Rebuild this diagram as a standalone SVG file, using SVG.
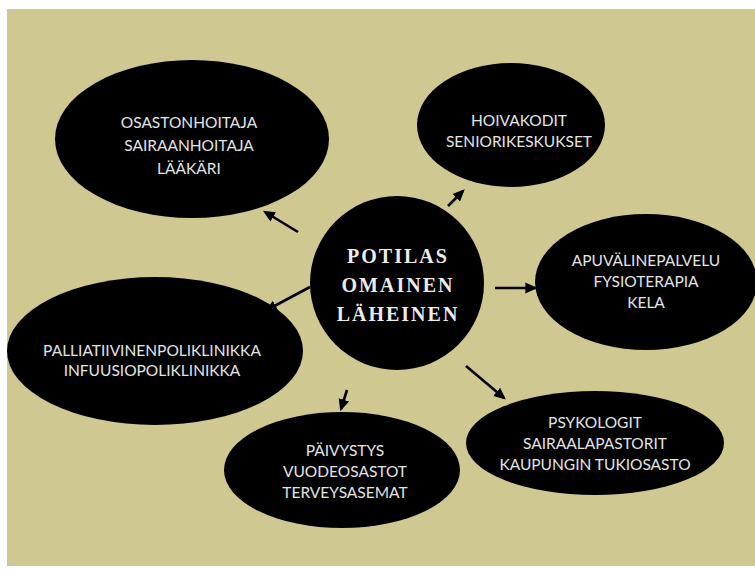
<svg xmlns="http://www.w3.org/2000/svg" width="755" height="571" viewBox="0 0 755 571">
  <style>
    .node { fill: #000000; }
    .lbl { font-family: Lato, "Open Sans", "Liberation Sans", sans-serif; font-size: 15.5px; fill: #e4e4e4; text-anchor: middle; }
    .main { font-family: "Liberation Serif", "DejaVu Serif", serif; font-weight: bold; font-size: 20px; fill: #ececec; text-anchor: middle; letter-spacing: 2px; }
    .conn { stroke: #000000; stroke-width: 2.6; fill: none; marker-end: url(#ah); }
  </style>
  <defs>
    <marker id="ah" markerUnits="userSpaceOnUse" markerWidth="12" markerHeight="12" viewBox="0 0 10 10" refX="8" refY="5" orient="auto">
      <path d="M0,0.5 L10,5 L0,9.5 Z" fill="#000000"/>
    </marker>
  </defs>
  <rect x="0" y="0" width="755" height="571" fill="#ffffff"/>
  <rect x="7" y="9" width="748" height="557" fill="#d0c891"/>

  <g id="connectors">
    <line class="conn" x1="298" y1="232" x2="265" y2="212"/>
    <line class="conn" x1="448" y1="206" x2="463" y2="191"/>
    <line class="conn" x1="495" y1="288" x2="535" y2="288"/>
    <line class="conn" x1="310" y1="287" x2="267" y2="310"/>
    <line class="conn" x1="347" y1="390" x2="341" y2="409"/>
    <line class="conn" x1="466" y1="366" x2="504" y2="398"/>
  </g>

  <g id="osasto">
    <ellipse class="node" cx="192" cy="139" rx="137" ry="79"/>
    <text class="lbl" x="189" y="128">OSASTONHOITAJA</text>
    <text class="lbl" x="189" y="151">SAIRAANHOITAJA</text>
    <text class="lbl" x="189" y="174">LÄÄKÄRI</text>
  </g>

  <g id="hoivakodit">
    <ellipse class="node" cx="511" cy="125" rx="94" ry="62"/>
    <text class="lbl" x="519" y="126">HOIVAKODIT</text>
    <text class="lbl" x="519" y="147">SENIORIKESKUKSET</text>
  </g>

  <g id="potilas">
    <circle class="node" cx="397" cy="283" r="87"/>
    <text class="main" x="398" y="263">POTILAS</text>
    <text class="main" x="398" y="292">OMAINEN</text>
    <text class="main" x="398" y="321">LÄHEINEN</text>
  </g>

  <g id="apuvaline">
    <ellipse class="node" cx="646" cy="282" rx="111" ry="68"/>
    <text class="lbl" x="646" y="266">APUVÄLINEPALVELU</text>
    <text class="lbl" x="646" y="287">FYSIOTERAPIA</text>
    <text class="lbl" x="646" y="308">KELA</text>
  </g>

  <g id="palliatiivinen">
    <ellipse class="node" cx="155" cy="351" rx="148" ry="74"/>
    <text class="lbl" x="152" y="356">PALLIATIIVINENPOLIKLINIKKA</text>
    <text class="lbl" x="152" y="376">INFUUSIOPOLIKLINIKKA</text>
  </g>

  <g id="paivystys">
    <ellipse class="node" cx="342" cy="470" rx="118" ry="58"/>
    <text class="lbl" x="345" y="456">PÄIVYSTYS</text>
    <text class="lbl" x="345" y="477">VUODEOSASTOT</text>
    <text class="lbl" x="345" y="498">TERVEYSASEMAT</text>
  </g>

  <g id="psykologit">
    <ellipse class="node" cx="595" cy="443" rx="129" ry="52"/>
    <text class="lbl" x="595" y="428">PSYKOLOGIT</text>
    <text class="lbl" x="595" y="449">SAIRAALAPASTORIT</text>
    <text class="lbl" x="595" y="470">KAUPUNGIN TUKIOSASTO</text>
  </g>
</svg>
